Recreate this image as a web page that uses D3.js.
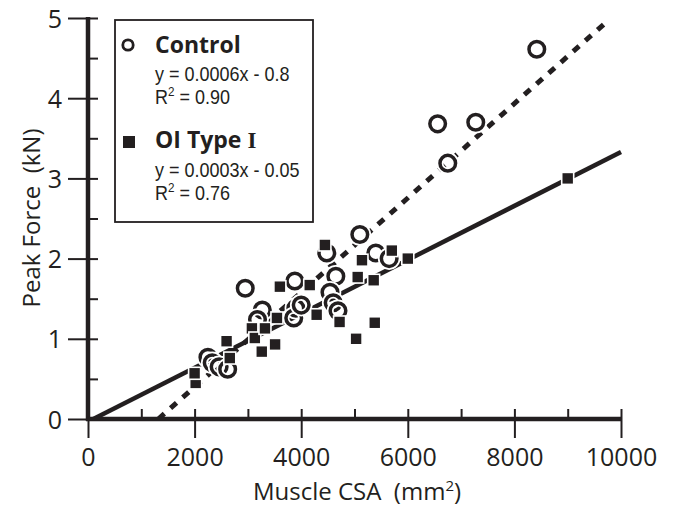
<!DOCTYPE html>
<html>
<head>
<meta charset="utf-8">
<script src="https://cdn.jsdelivr.net/npm/d3@7/dist/d3.min.js"></script>
<style>
  html, body { margin: 0; padding: 0; background: #fff; }
  svg { display: block; }
</style>
</head>
<body>
<svg id="chart" width="674" height="509"></svg>
<script>
// ---- data ----
const xMajorTicks = [0, 2000, 4000, 6000, 8000, 10000];
const xMinorTicks = [0, 1000, 2000, 3000, 4000, 5000, 6000, 7000, 8000, 9000, 10000];
const yMajorTicks = [0, 1, 2, 3, 4, 5];
const yMinorTicks = [0, 0.5, 1, 1.5, 2, 2.5, 3, 3.5, 4, 4.5, 5];

// Control (open circles): [CSA mm^2, peak force kN]
const controlPoints = [
  [2250, 0.77], [2330, 0.70], [2460, 0.65], [2620, 0.62],
  [2950, 1.63], [3270, 1.36], [3180, 1.24],
  [3880, 1.72], [3900, 1.38], [3860, 1.26], [4000, 1.42],
  [4480, 2.07], [4650, 1.78], [4540, 1.58], [4600, 1.45], [4690, 1.35],
  [5100, 2.30], [5400, 2.07], [5650, 2.00],
  [6560, 3.68], [6750, 3.19], [7275, 3.70], [8420, 4.61]
];
// OI Type I (filled squares)
const oiPoints = [
  [2020, 0.45], [2000, 0.57], [2600, 0.97], [2660, 0.76],
  [3075, 1.13], [3130, 1.01], [3260, 0.84], [3320, 1.13], [3510, 0.93],
  [3545, 1.26], [3600, 1.65], [4160, 1.67], [4290, 1.30], [4445, 2.17],
  [4720, 1.21], [5030, 1.00], [5060, 1.77], [5140, 1.98], [5360, 1.73],
  [5380, 1.20], [5700, 2.10], [6000, 2.00], [9000, 3.00]
];
// fitted lines (end points as drawn)
const controlFit = [[1320, 0], [9760, 4.97]];
const oiFit = [[100, 0], [10000, 3.33]];

const legendTitles = ["Control", "OI Type "];
const legendEquations = ["y = 0.0006x - 0.8", "y = 0.0003x - 0.05"];
const legendR2 = ["0.90", "0.76"];

// ---- drawing ----
const INK = "#231f20";
const svg = d3.select("#chart");
const x = d3.scaleLinear().domain([0, 10000]).range([88, 621]);
const y = d3.scaleLinear().domain([0, 5]).range([419, 18]);

// fitted lines
const line = d3.line().x(d => x(d[0])).y(d => y(d[1]));
svg.append("path").attr("d", line(oiFit))
  .attr("fill", "none").attr("stroke", INK).attr("stroke-width", 4.5);
svg.append("path").attr("d", line(controlFit))
  .attr("fill", "none").attr("stroke", INK).attr("stroke-width", 5)
  .attr("stroke-dasharray", "8 8.3");

// circles
const cg = svg.append("g");
controlPoints.forEach(d => {
  cg.append("circle").attr("cx", x(d[0])).attr("cy", y(d[1])).attr("r", 7.8)
    .attr("fill", "none").attr("stroke", "#fff").attr("stroke-width", 7);
  cg.append("circle").attr("cx", x(d[0])).attr("cy", y(d[1])).attr("r", 7.8)
    .attr("fill", "none").attr("stroke", INK).attr("stroke-width", 3.5);
});
// squares
const sq = 12;
const sg = svg.append("g");
oiPoints.forEach(d => {
  sg.append("rect").attr("x", x(d[0]) - sq / 2).attr("y", y(d[1]) - sq / 2)
    .attr("width", sq).attr("height", sq)
    .attr("fill", INK).attr("stroke", "#fff").attr("stroke-width", 1.6);
});

// axes
const fontFam = "'Open Sans', sans-serif";
const gy = svg.append("g").attr("transform", `translate(${x(0)},0)`)
  .call(d3.axisLeft(y).tickValues(yMajorTicks).tickSize(20).tickPadding(6).tickFormat(d3.format("d")));
const gyR = svg.append("g").attr("transform", `translate(${x(0)},0)`)
  .call(d3.axisRight(y).tickValues(yMinorTicks).tickSize(10).tickFormat(""));
const gx = svg.append("g").attr("transform", `translate(0,${y(0)})`)
  .call(d3.axisBottom(x).tickValues(xMajorTicks).tickSize(19).tickPadding(9).tickFormat(d3.format("d")));
const gxT = svg.append("g").attr("transform", `translate(0,${y(0)})`)
  .call(d3.axisTop(x).tickValues(xMinorTicks).tickSize(10).tickFormat(""));
[gy, gyR, gx, gxT].forEach(g => {
  g.select(".domain").remove();
  g.selectAll(".tick line").attr("stroke", INK).attr("stroke-width", 2);
  g.selectAll(".tick text").attr("fill", INK).style("font-family", fontFam).style("font-size", "25px");
});
gy.selectAll(".tick text").attr("dy", "0.36em");
gx.selectAll(".tick text").attr("dy", "0.74em");

// axis lines
svg.append("line").attr("x1", x(0)).attr("x2", x(0)).attr("y1", y(5) - 1).attr("y2", y(0) + 2)
  .attr("stroke", INK).attr("stroke-width", 4.5);
svg.append("line").attr("x1", x(0) - 2).attr("x2", x(10000) + 1).attr("y1", y(0)).attr("y2", y(0))
  .attr("stroke", INK).attr("stroke-width", 4.5);

// axis titles
const xt = svg.append("text").attr("x", 357).attr("y", 500).attr("text-anchor", "middle")
  .attr("fill", INK).style("font-family", fontFam).style("font-size", "24px");
xt.append("tspan").text("Muscle CSA\u00a0\u00a0(mm");
xt.append("tspan").attr("dy", -9).style("font-size", "15px").text("2");
xt.append("tspan").attr("dy", 9).text(")");

svg.append("text").attr("transform", "translate(40,218) rotate(-90)").attr("text-anchor", "middle")
  .attr("fill", INK).style("font-family", fontFam).style("font-size", "24px")
  .text("Peak Force\u00a0\u00a0(kN)");

// legend
const lg = svg.append("g");
lg.append("rect").attr("x", 115).attr("y", 20).attr("width", 198).attr("height", 202)
  .attr("fill", "#fff").attr("stroke", INK).attr("stroke-width", 1.8);
lg.append("circle").attr("cx", 128).attr("cy", 45).attr("r", 5.2)
  .attr("fill", "none").attr("stroke", INK).attr("stroke-width", 2.8);
lg.append("rect").attr("x", 123).attr("y", 136).attr("width", 12).attr("height", 12).attr("fill", INK);

const titleY = [53, 148], eqY = [81, 177], r2Y = [104, 200];
legendTitles.forEach((t, i) => {
  const tt = lg.append("text").attr("x", 155).attr("y", titleY[i]).attr("fill", INK)
    .style("font-family", fontFam).style("font-size", "23px").style("font-weight", "bold").text(t);
  if (i === 1) tt.append("tspan").style("font-family", "'Liberation Serif', serif").style("font-weight", "bold").text("I");
  lg.append("text").attr("transform", `translate(155,${eqY[i]}) scale(0.9,1.02)`).attr("fill", INK)
    .style("font-family", "'Liberation Sans', sans-serif").style("font-size", "20px").text(legendEquations[i]);
  const r = lg.append("text").attr("transform", `translate(155,${r2Y[i]}) scale(0.9,1.02)`).attr("fill", INK)
    .style("font-family", "'Liberation Sans', sans-serif").style("font-size", "20px");
  r.append("tspan").text("R");
  r.append("tspan").attr("dy", -8).style("font-size", "13px").text("2");
  r.append("tspan").attr("dy", 8).text(" = " + legendR2[i]);
});
</script>
</body>
</html>
